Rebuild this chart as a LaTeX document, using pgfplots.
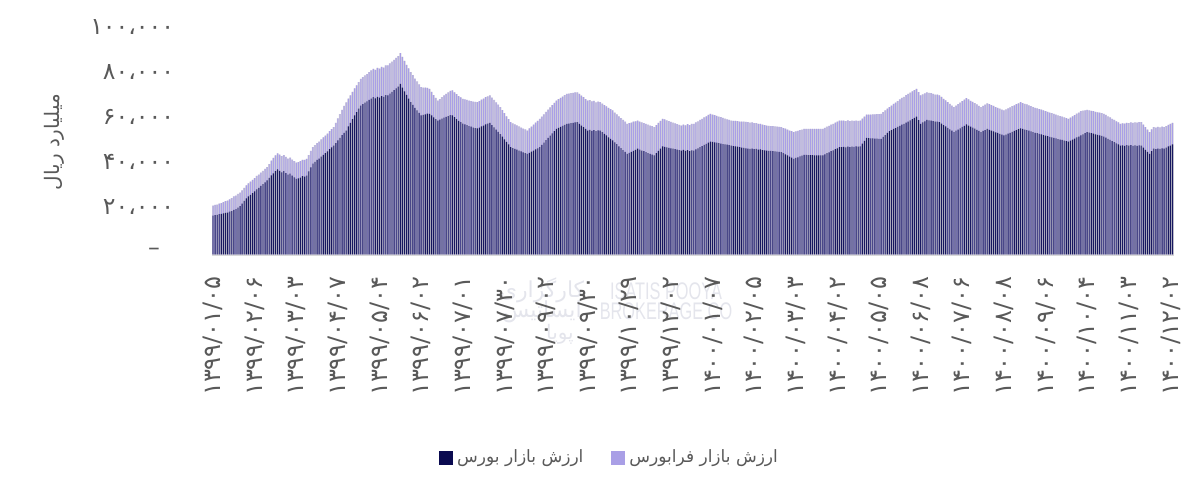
\documentclass[border=0pt]{standalone}
\usepackage{fontspec}
\usepackage{graphicx}
\usepackage{pgfplots}
\usepackage{pgfplotstable}
\pgfplotsset{compat=1.18}
\TeXXeTstate=1
\setmainfont{DejaVu Sans}
\newfontfamily\fa[Script=Arabic]{DejaVu Sans}
\newfontfamily\wm{Liberation Sans}
\definecolor{navy}{HTML}{17175F}
\definecolor{navysh}{HTML}{A8A8BA}
\definecolor{lav}{HTML}{A99FE6}
\definecolor{lavsh}{HTML}{CFCDDB}
\definecolor{legnavy}{HTML}{0A0A50}
\definecolor{txt}{HTML}{595959}
\definecolor{wmc}{HTML}{E4E5EC}

\pgfplotstableread[row sep=\\]{
b f\\
17.3 4.4\\ 17.5 4.5\\ 17.6 4.6\\ 17.9 4.7\\ 18.0 4.8\\ 18.3 5.0\\ 18.5 5.2\\ 18.6 5.3\\ 19.0 5.5\\ 19.3 5.7\\
19.8 6.0\\ 20.2 6.0\\ 20.8 6.1\\ 21.5 6.0\\ 22.6 5.9\\ 23.8 5.8\\ 24.9 5.8\\ 25.8 5.8\\ 26.5 5.9\\ 27.3 5.9\\
28.0 5.9\\ 28.9 6.0\\ 29.6 5.9\\ 30.5 5.9\\ 31.3 5.9\\ 32.0 6.0\\ 32.9 5.9\\ 34.0 6.2\\ 35.2 6.5\\ 36.1 6.8\\
37.0 7.0\\ 37.8 7.1\\ 37.2 7.2\\ 36.5 7.2\\ 37.0 7.2\\ 36.2 7.2\\ 35.5 7.1\\ 35.9 7.2\\ 35.0 7.2\\ 34.3 7.2\\
33.6 7.2\\ 33.8 7.2\\ 34.2 7.3\\ 34.8 7.3\\ 34.6 7.4\\ 35.1 7.4\\ 36.9 7.3\\ 38.7 7.3\\ 40.4 7.3\\ 41.2 7.4\\
42.0 7.5\\ 42.6 7.6\\ 43.5 7.7\\ 44.3 7.7\\ 45.0 7.8\\ 45.8 7.9\\ 46.8 8.0\\ 47.6 8.1\\ 48.4 8.2\\ 49.5 9.0\\
50.7 9.8\\ 51.8 10.6\\ 53.0 11.3\\ 54.1 12.0\\ 55.1 12.5\\ 56.9 12.4\\ 58.5 12.2\\ 60.2 12.1\\ 61.8 12.0\\ 63.3 11.9\\
64.8 11.8\\ 66.2 11.8\\ 66.8 12.0\\ 67.5 12.1\\ 68.0 12.2\\ 68.7 12.3\\ 69.3 12.5\\ 69.9 12.6\\ 69.4 12.7\\ 70.1 12.8\\
69.7 12.9\\ 70.4 13.0\\ 70.0 13.1\\ 70.8 13.2\\ 70.7 13.3\\ 71.5 13.4\\ 72.3 13.4\\ 73.0 13.5\\ 73.8 13.6\\ 74.6 13.6\\
75.8 13.7\\ 74.2 13.6\\ 72.5 13.5\\ 70.9 13.4\\ 69.3 13.4\\ 67.7 13.3\\ 66.5 13.2\\ 65.2 13.0\\ 64.0 12.9\\ 62.9 12.7\\
61.8 12.6\\ 62.0 12.2\\ 62.3 11.9\\ 62.6 11.5\\ 62.5 11.1\\ 61.8 10.5\\ 60.9 9.9\\ 60.2 9.4\\ 59.5 8.9\\ 59.9 9.2\\
60.4 9.5\\ 60.8 9.9\\ 61.2 10.2\\ 61.5 10.5\\ 61.9 10.8\\ 61.8 11.1\\ 61.0 11.1\\ 60.2 11.1\\ 59.4 11.0\\ 58.8 11.0\\
58.2 11.0\\ 57.8 11.1\\ 57.5 11.2\\ 57.1 11.3\\ 56.8 11.4\\ 56.4 11.5\\ 56.2 11.6\\ 56.0 11.7\\ 56.4 11.8\\ 56.9 11.9\\
57.3 12.0\\ 57.8 12.1\\ 58.2 12.1\\ 58.5 12.2\\ 57.5 12.2\\ 56.5 12.2\\ 55.5 12.1\\ 54.5 12.1\\ 53.5 12.0\\ 52.4 11.8\\
51.2 11.6\\ 50.0 11.4\\ 48.9 11.3\\ 47.7 11.1\\ 47.3 11.0\\ 46.9 10.9\\ 46.6 10.8\\ 46.2 10.7\\ 45.8 10.6\\ 45.4 10.5\\
45.1 10.5\\ 44.7 10.4\\ 45.2 10.8\\ 45.7 11.1\\ 46.2 11.5\\ 46.7 11.9\\ 47.2 12.2\\ 47.7 12.6\\ 48.7 12.6\\ 49.7 12.6\\
50.8 12.6\\ 51.8 12.6\\ 52.8 12.6\\ 53.8 12.6\\ 54.8 12.6\\ 55.8 12.6\\ 56.3 12.7\\ 56.7 12.9\\ 57.2 13.0\\ 57.6 13.2\\
58.1 13.3\\ 58.2 13.3\\ 58.4 13.3\\ 58.5 13.3\\ 58.7 13.3\\ 58.8 13.3\\ 58.1 13.3\\ 57.3 13.3\\ 56.6 13.3\\ 55.8 13.3\\
55.1 13.3\\ 55.4 13.2\\ 54.9 13.1\\ 55.3 13.0\\ 54.8 12.8\\ 55.2 12.7\\ 55.1 12.6\\ 54.4 12.7\\ 53.6 12.8\\ 52.9 12.9\\
52.1 13.1\\ 51.4 13.2\\ 50.7 13.3\\ 49.8 13.3\\ 49.0 13.3\\ 48.1 13.3\\ 47.3 13.3\\ 46.4 13.4\\ 45.6 13.4\\ 44.7 13.4\\
45.2 13.2\\ 45.6 13.0\\ 46.1 12.9\\ 46.5 12.7\\ 47.0 12.5\\ 46.6 12.5\\ 46.2 12.5\\ 45.9 12.5\\ 45.5 12.6\\ 45.1 12.6\\
44.7 12.6\\ 44.4 12.6\\ 44.0 12.6\\ 45.0 12.5\\ 46.0 12.5\\ 47.0 12.4\\ 48.0 12.3\\ 47.8 12.2\\ 47.6 12.0\\ 47.4 11.9\\
47.2 11.7\\ 47.0 11.6\\ 46.8 11.5\\ 46.6 11.3\\ 46.4 11.2\\ 46.2 11.1\\ 46.5 11.2\\ 46.0 11.4\\ 46.4 11.5\\ 45.9 11.6\\
46.3 11.8\\ 46.2 11.9\\ 46.7 12.0\\ 47.2 12.0\\ 47.7 12.1\\ 48.2 12.1\\ 48.7 12.2\\ 49.2 12.2\\ 49.7 12.3\\ 50.2 12.3\\
50.0 12.2\\ 49.8 12.1\\ 49.7 11.9\\ 49.5 11.8\\ 49.3 11.7\\ 49.1 11.6\\ 48.9 11.5\\ 48.8 11.3\\ 48.6 11.2\\ 48.4 11.1\\
48.2 11.2\\ 48.1 11.3\\ 47.9 11.4\\ 47.7 11.4\\ 47.5 11.5\\ 47.4 11.6\\ 47.2 11.7\\ 47.0 11.8\\ 46.9 11.7\\ 47.1 11.6\\
46.8 11.6\\ 46.9 11.5\\ 46.6 11.4\\ 46.7 11.3\\ 46.4 11.3\\ 46.3 11.2\\ 46.2 11.1\\ 46.1 11.1\\ 46.0 11.1\\ 45.9 11.1\\
45.8 11.1\\ 45.7 11.1\\ 45.6 11.1\\ 45.5 11.1\\ 45.0 11.2\\ 44.5 11.4\\ 44.0 11.5\\ 43.5 11.6\\ 43.0 11.8\\ 42.5 11.9\\
42.9 11.8\\ 43.2 11.7\\ 43.6 11.7\\ 43.9 11.6\\ 44.3 11.5\\ 44.3 11.5\\ 44.2 11.6\\ 44.2 11.6\\ 44.2 11.6\\ 44.1 11.7\\
44.1 11.7\\ 44.1 11.7\\ 44.0 11.8\\ 44.0 11.8\\ 44.5 11.8\\ 45.0 11.8\\ 45.4 11.8\\ 45.9 11.8\\ 46.3 11.8\\ 46.8 11.8\\
47.2 11.8\\ 47.7 11.8\\ 47.7 11.8\\ 47.8 11.7\\ 47.6 11.7\\ 47.9 11.7\\ 47.7 11.6\\ 47.9 11.6\\ 47.8 11.6\\ 48.0 11.5\\
47.9 11.5\\ 48.0 11.5\\ 49.3 11.1\\ 50.5 10.8\\ 51.8 10.4\\ 51.7 10.5\\ 51.6 10.6\\ 51.6 10.7\\ 51.5 10.8\\ 51.5 10.9\\
51.4 11.0\\ 51.4 11.1\\ 52.3 11.0\\ 53.1 10.9\\ 54.0 10.8\\ 54.8 10.7\\ 55.3 10.9\\ 55.8 11.1\\ 56.2 11.3\\ 56.7 11.5\\
57.2 11.7\\ 57.7 11.9\\ 58.1 12.0\\ 58.6 12.2\\ 59.1 12.3\\ 59.6 12.3\\ 60.2 12.3\\ 60.7 12.3\\ 61.3 12.3\\ 59.7 12.5\\
58.1 12.6\\ 58.7 12.5\\ 59.2 12.4\\ 59.8 12.3\\ 59.6 12.2\\ 59.5 12.2\\ 59.3 12.1\\ 59.1 12.0\\ 59.0 12.0\\ 58.8 11.9\\
58.2 11.8\\ 57.5 11.7\\ 56.9 11.6\\ 56.3 11.4\\ 55.6 11.3\\ 55.0 11.2\\ 54.4 11.1\\ 55.0 11.2\\ 55.5 11.3\\ 56.1 11.4\\
56.7 11.5\\ 57.2 11.6\\ 57.8 11.7\\ 57.3 11.6\\ 56.8 11.5\\ 56.4 11.4\\ 55.9 11.4\\ 55.4 11.3\\ 54.9 11.2\\ 54.4 11.1\\
54.9 11.2\\ 55.3 11.3\\ 55.8 11.4\\ 55.4 11.4\\ 55.1 11.3\\ 54.7 11.3\\ 54.3 11.2\\ 54.0 11.2\\ 53.6 11.2\\ 53.3 11.1\\
52.9 11.1\\ 53.3 11.2\\ 53.7 11.2\\ 54.1 11.3\\ 54.5 11.4\\ 54.9 11.4\\ 55.3 11.5\\ 55.7 11.5\\ 56.1 11.6\\ 55.8 11.5\\
55.5 11.4\\ 55.3 11.4\\ 55.0 11.3\\ 54.7 11.2\\ 54.4 11.1\\ 54.1 11.1\\ 53.9 11.0\\ 53.6 11.0\\ 53.4 11.0\\ 53.1 10.9\\
52.8 10.9\\ 52.6 10.8\\ 52.3 10.8\\ 52.1 10.7\\ 51.8 10.7\\ 51.6 10.6\\ 51.3 10.5\\ 51.1 10.4\\ 50.9 10.4\\ 50.6 10.3\\
50.4 10.2\\ 50.2 10.1\\ 50.6 10.2\\ 51.1 10.3\\ 51.5 10.4\\ 52.0 10.6\\ 52.4 10.7\\ 52.9 10.8\\ 53.4 10.5\\ 53.9 10.2\\
54.4 9.9\\ 54.2 9.9\\ 53.9 9.9\\ 53.7 10.0\\ 53.4 10.0\\ 53.2 10.0\\ 52.9 10.1\\ 52.7 10.1\\ 52.4 10.1\\ 51.9 10.1\\
51.4 10.0\\ 50.9 10.0\\ 50.4 9.9\\ 49.9 9.9\\ 49.4 9.8\\ 48.9 9.8\\ 48.4 9.7\\ 48.5 9.8\\ 48.3 9.9\\ 48.6 9.9\\
48.4 10.0\\ 48.6 10.1\\ 48.3 10.2\\ 48.5 10.2\\ 48.3 10.3\\ 48.5 10.3\\ 48.4 10.4\\ 47.5 10.2\\ 46.5 10.1\\ 45.6 9.9\\
44.7 9.7\\ 45.9 9.7\\ 47.0 9.6\\ 46.8 9.6\\ 47.1 9.6\\ 46.9 9.6\\ 47.2 9.6\\ 47.0 9.6\\ 47.5 9.6\\ 48.0 9.6\\
48.4 9.6\\ 48.9 9.6\\
}\data

\begin{document}
\begin{tikzpicture}
\useasboundingbox (0,0) rectangle (601pt,246pt);
% watermark
\node[text=wmc, font=\wm\fontsize{12}{12}\selectfont] at (333pt,100.5pt) {\scalebox{0.68}[1]{ISATIS POOYA}};
\node[text=wmc, font=\wm\fontsize{12}{12}\selectfont] at (333pt,90.5pt) {\scalebox{0.68}[1]{BROKERAGE CO}};
\node[text=wmc, font=\fa\fontsize{11}{11}\selectfont] at (271pt,101pt) {\beginR کارگزاری\endR};
\node[text=wmc, font=\fa\fontsize{11}{11}\selectfont] at (271pt,90pt) {\beginR ایساتیس\endR};
\node[text=wmc, font=\fa\fontsize{10}{10}\selectfont] at (280pt,79pt) {\beginR پویا\endR};
\begin{axis}[
  at={(106pt,118.75pt)}, anchor=south west,
  scale only axis, width=480.75pt, height=112.5pt,
  xmin=-0.5, xmax=461.5, ymin=0, ymax=100,
  axis line style={draw=none},
  major tick length=0pt,
  ytick={0,20,40,60,80,100},
  yticklabels={{–\kern7pt},{۲۰،۰۰۰},{۴۰،۰۰۰},{۶۰،۰۰۰},{۸۰،۰۰۰},{۱۰۰،۰۰۰}},
  yticklabel style={font=\fa\fontsize{11.8}{13}\selectfont, text=txt, yshift=1.2pt},
  yticklabel shift=15.5pt,
  xtick={0,20,...,460},
  xticklabels={{۱۳۹۹/۰۱/۰۵},{۱۳۹۹/۰۲/۰۶},{۱۳۹۹/۰۳/۰۳},{۱۳۹۹/۰۴/۰۷},{۱۳۹۹/۰۵/۰۴},{۱۳۹۹/۰۶/۰۲},{۱۳۹۹/۰۷/۰۱},{۱۳۹۹/۰۷/۳۰},{۱۳۹۹/۰۹/۰۲},{۱۳۹۹/۰۹/۳۰},{۱۳۹۹/۱۰/۲۹},{۱۳۹۹/۱۲/۰۲},{۱۴۰۰/۰۱/۰۷},{۱۴۰۰/۰۲/۰۵},{۱۴۰۰/۰۳/۰۳},{۱۴۰۰/۰۴/۰۲},{۱۴۰۰/۰۵/۰۵},{۱۴۰۰/۰۶/۰۸},{۱۴۰۰/۰۷/۰۶},{۱۴۰۰/۰۸/۰۸},{۱۴۰۰/۰۹/۰۶},{۱۴۰۰/۱۰/۰۴},{۱۴۰۰/۱۱/۰۳},{۱۴۰۰/۱۲/۰۲}},
  xticklabel style={font=\fa\fontsize{12}{13}\selectfont, text=txt, rotate=90, anchor=east},
  xticklabel shift=7.5pt,
  extra y ticks={0}, extra y tick labels={},
  extra y tick style={ymajorgrids=true, major grid style={draw=black!15, line width=1.5pt}},
  ylabel={\beginR میلیارد ریال\endR},
  ylabel style={at={(axis description cs:-0.1635,0.5)}, anchor=center, font=\fa\fontsize{10}{12}\selectfont, text=txt},
  legend columns=2,
  legend style={at={(axis description cs:0.4145,-0.9044)}, anchor=center, draw=none, fill=none,
    font=\fa\fontsize{8.5}{10}\selectfont, text=txt,
    /tikz/every even column/.append style={column sep=12pt}},
  legend image code/.code={\fill[#1] (0pt,-3.5pt) rectangle (7pt,3.5pt);},
]
\addplot[ybar, bar width=1, bar shift=0pt, fill=lavsh, draw=none, forget plot]
  table[x expr=\coordindex, y expr=\thisrow{b}+\thisrow{f}] {\data};
\addplot[ybar, bar width=1, bar shift=0pt, fill=navysh, draw=none, forget plot]
  table[x expr=\coordindex, y=b] {\data};
\addplot[ybar, bar width=0.45, bar shift=0pt, fill=lav, draw=none, forget plot]
  table[x expr=\coordindex, y expr=\thisrow{b}+\thisrow{f}] {\data};
\addplot[ybar, bar width=0.42, bar shift=0pt, fill=navy, draw=none, forget plot]
  table[x expr=\coordindex, y=b] {\data};
\addlegendimage{fill=legnavy, draw=none}
\addlegendentry{\beginR ارزش بازار بورس\endR}
\addlegendimage{fill=lav, draw=none}
\addlegendentry{\beginR ارزش بازار فرابورس\endR}
\end{axis}
\end{tikzpicture}
\end{document}
